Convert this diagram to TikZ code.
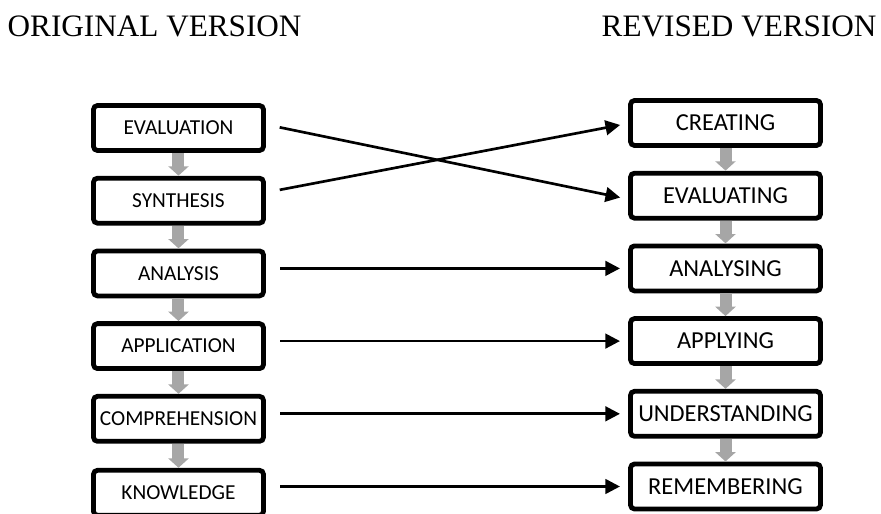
\documentclass[tikz,border=0pt]{standalone}
\usepackage{fontspec}
\setmainfont{Liberation Serif}
\newfontfamily\boxfont{Carlito}
\usepackage{tkz-graph}
\usetikzlibrary{arrows.meta}

\begin{document}
\begin{tikzpicture}[scale=1]
		\useasboundingbox (0,0) rectangle (23.223,-13.523);
		\tikzstyle{LabelStyle}  = []
		\tikzstyle{VertexStyle} = [shape=rectangle, draw, fill=white, line width=3.6pt, rounded corners=3pt,
			inner sep=0pt, minimum width=4.481cm, minimum height=1.186cm, font=\boxfont\fontsize{16}{19}\selectfont]

		% headings
		\node[anchor=base west, font=\fontsize{23.4}{28}\selectfont] (orig) at (0.079,-0.975) {ORIGINAL VERSION};
		\node[anchor=base west, font=\fontsize{23.4}{28}\selectfont] (revis) at (15.737,-0.975) {REVISED VERSION};

		\Vertex[x=4.705,y=-3.374,L=EVALUATION]{eval}    \Vertex[x=4.705,y=-5.290,L=SYNTHESIS]{synth}
		\Vertex[x=4.705,y=-7.207,L=ANALYSIS]{anal}      \Vertex[x=4.705,y=-9.123,L=APPLICATION]{appl}
		\Vertex[x=4.705,y=-11.040,L=COMPREHENSION]{compr} \Vertex[x=4.705,y=-12.990,L=KNOWLEDGE]{know}

		\tikzstyle{VertexStyle} = [shape=rectangle, draw, fill=white, line width=3.6pt, rounded corners=3pt,
			inner sep=0pt, minimum width=5.008cm, minimum height=1.186cm, font=\boxfont\fontsize{18.3}{21}\selectfont]
		\Vertex[x=19.124,y=-3.242,L=CREATING]{create}     \Vertex[x=19.124,y=-5.158,L=EVALUATING]{evaluate}
		\Vertex[x=19.124,y=-7.075,L=ANALYSING]{analyse}   \Vertex[x=19.124,y=-8.991,L=APPLYING]{apply}
		\Vertex[x=19.124,y=-10.908,L=UNDERSTANDING]{underst} \Vertex[x=19.124,y=-12.824,L=REMEMBERING]{remember}

		% grey steps down each column
		\tikzstyle{EdgeStyle}   = [line width=9pt, draw=gray!70, -{Triangle[length=7pt,width=15pt]}, shorten <=1.9pt, shorten >=1.9pt]
		\Edge(eval)(synth) \Edge(synth)(anal) \Edge(anal)(appl) \Edge(appl)(compr) \Edge(compr)(know)
		\Edge(create)(evaluate) \Edge(evaluate)(analyse) \Edge(analyse)(apply) \Edge(apply)(underst) \Edge(underst)(remember)

		% old level to new level
		\tikzstyle{EdgeStyle}   = [line width=2pt, draw=black, -{Triangle[length=11pt,width=11pt]}, shorten <=12.4pt, shorten >=7.9pt]
		\Edge([yshift=3pt]eval.east)([yshift=-3pt]evaluate.west) \Edge([yshift=5.8pt]synth.east)(create.west)
		\Edge(anal.east |- analyse)(analyse.west) \Edge(appl.east |- apply)(apply.west)
		\Edge(compr.east |- underst)(underst.west) \Edge(know.east |- remember)(remember.west)
	\end{tikzpicture}
\end{document}
